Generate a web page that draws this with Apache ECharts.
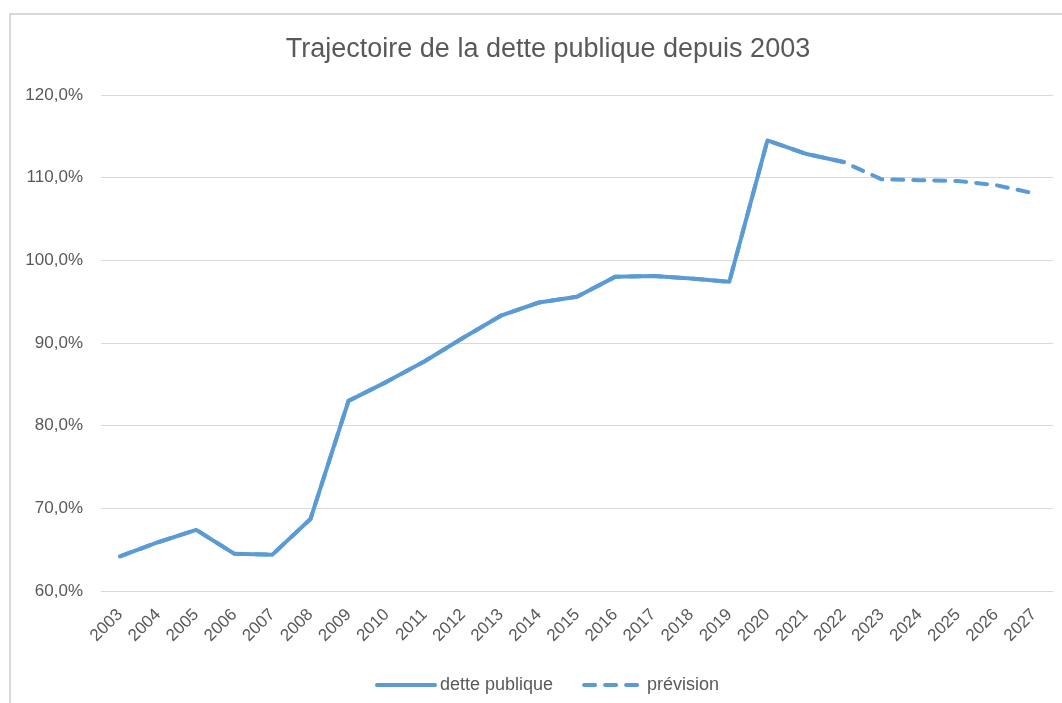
<!DOCTYPE html>
<html>
<head>
<meta charset="utf-8">
<script src="https://cdn.jsdelivr.net/npm/echarts@6/dist/echarts.min.js"></script>
<style>
html,body{margin:0;padding:0;background:#fff;}
#wrap{position:relative;width:1062px;height:703px;}
#chart{width:1062px;height:703px;}
#frame{position:absolute;left:9px;top:13px;right:0;bottom:0;border-left:2px solid #d9d9d9;border-top:2px solid #d9d9d9;pointer-events:none;}
</style>
</head>
<body>
<div id="wrap"><div id="chart"></div><div id="frame"></div></div>
<script>
const years = ['2003','2004','2005','2006','2007','2008','2009','2010','2011','2012','2013','2014','2015','2016','2017','2018','2019','2020','2021','2022','2023','2024','2025','2026','2027'];
const dettePublique = [64.2, 65.9, 67.4, 64.5, 64.4, 68.7, 83.0, 85.3, 87.8, 90.6, 93.3, 94.9, 95.6, 98.0, 98.1, 97.8, 97.4, 114.5, 112.9, 111.9];
const prevision = [64.2, 65.9, 67.4, 64.5, 64.4, 68.7, 83.0, 85.3, 87.8, 90.6, 93.3, 94.9, 95.6, 98.0, 98.1, 97.8, 97.4, 114.5, 112.9, 111.9, 109.8, 109.7, 109.6, 109.1, 108.1];
const yTicks = {min: 60, max: 120, interval: 10};

const FONT = '"Liberation Sans", Arial, sans-serif';
const TXT = '#595959';
const BLUE = '#5B9BD5';

const chart = echarts.init(document.getElementById('chart'), null, {renderer: 'canvas'});
chart.setOption({
  animation: false,
  backgroundColor: '#fff',
  title: {
    text: 'Trajectoire de la dette publique depuis 2003',
    left: 543,
    textAlign: 'center',
    top: 31,
    textStyle: {fontFamily: FONT, fontSize: 27, fontWeight: 'normal', color: TXT}
  },
  grid: {left: 101, right: 9, top: 95, bottom: 112, containLabel: false},
  legend: {
    left: 370,
    top: 671,
    itemWidth: 58,
    itemHeight: 16,
    itemGap: 29,
    itemStyle: {opacity: 0},
    lineStyle: {width: 4, cap: 'round'},
    textStyle: {fontFamily: FONT, fontSize: 18, color: TXT},
    data: ['dette publique', 'prévision']
  },
  xAxis: {
    type: 'category',
    data: years,
    boundaryGap: true,
    axisLine: {show: true, lineStyle: {color: '#d9d9d9', width: 1}},
    axisTick: {show: false},
    axisLabel: {rotate: 45, margin: 21, fontFamily: FONT, fontSize: 17, color: TXT, interval: 0}
  },
  yAxis: {
    type: 'value',
    min: yTicks.min,
    max: yTicks.max,
    interval: yTicks.interval,
    axisLine: {show: false},
    axisTick: {show: false},
    splitLine: {lineStyle: {color: '#d9d9d9', width: 1}},
    axisLabel: {
      margin: 18,
      fontFamily: FONT, fontSize: 17, color: TXT,
      formatter: v => v.toFixed(1).replace('.', ',') + '%'
    }
  },
  series: [
    {
      name: 'dette publique',
      type: 'line',
      data: dettePublique,
      symbol: 'none',
      lineStyle: {color: BLUE, width: 4, cap: 'round', join: 'round'},
      itemStyle: {color: BLUE}
    },
    {
      name: 'prévision',
      type: 'line',
      data: prevision,
      symbol: 'none',
      lineStyle: {color: BLUE, width: 4, type: [11, 10], cap: 'round', join: 'round'},
      itemStyle: {color: BLUE}
    }
  ]
});
</script>
</body>
</html>
